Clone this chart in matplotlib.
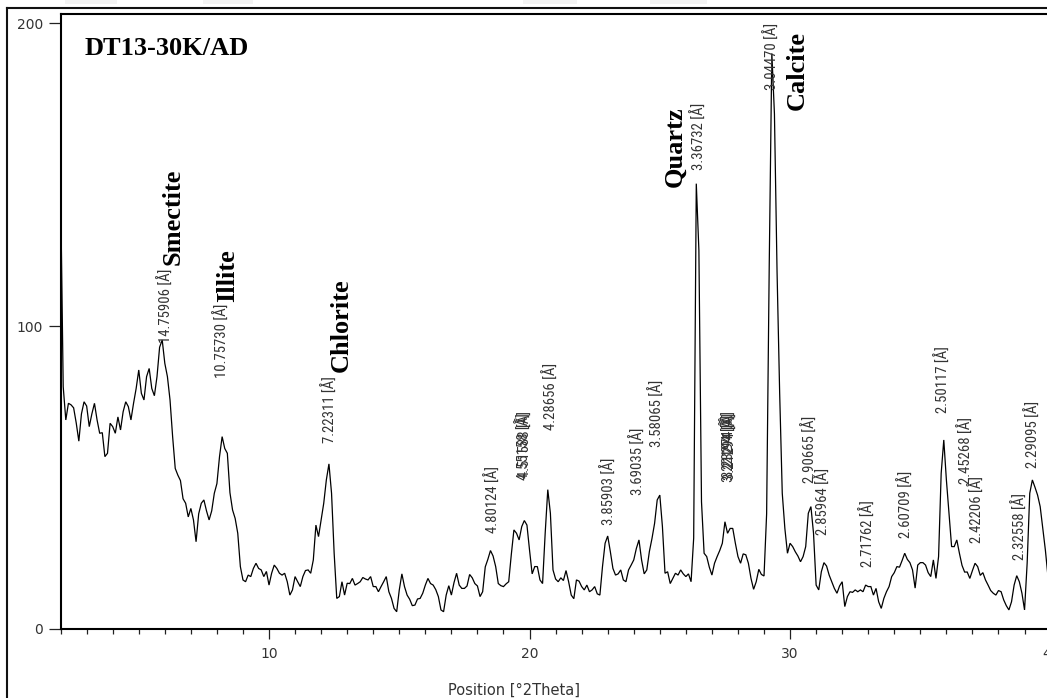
import os
import numpy as np
import matplotlib
matplotlib.use("Agg")
import matplotlib.pyplot as plt
from matplotlib import font_manager as fm
from matplotlib.font_manager import FontProperties
from matplotlib.ticker import MultipleLocator
from matplotlib.lines import Line2D
from matplotlib.patches import Rectangle

# ---------------- data ----------------
# scan positions (°2Theta), 0.1° steps from 2.0 to 39.9
two_theta = np.round(np.arange(2.0, 39.95, 0.1), 1)

# counts, one row per degree (2.0-2.9, 3.0-3.9, ...)
intensity = [
    145, 80, 69, 74.5, 74, 73, 68, 62, 71, 75,
    73.6, 66.8, 71, 74.5, 69, 64.6, 64.8, 56.9, 58, 67.9,
    66.8, 64.6, 70, 65.7, 71.7, 75, 73.4, 69, 74.5, 79.4,
    85.5, 77.8, 75.6, 83.3, 86, 79.4, 77, 83.3, 93, 95.4,
    87.7, 83.3, 75.6, 63.5, 53, 50.8, 49, 43, 41.5, 37,
    39.8, 36, 28.8, 38, 41.5, 42.6, 39, 36, 39, 44.8,
    48, 56.9, 63.5, 59.6, 58, 45, 39.3, 36.5, 31.6, 20.6,
    16.2, 15.6, 17.8, 17.3, 20, 21.7, 20, 19.5, 17.3, 19,
    14.5, 18.4, 21.1, 20, 18.4, 17.8, 18.4, 15.6, 11.2, 12.9,
    17.3, 15.6, 14, 17.3, 19.3, 19.5, 18.4, 22.8, 34.3, 30.5,
    36, 41.5, 49.2, 54.5, 44.8, 25, 10.1, 10.7, 15.6, 11.2,
    15.1, 15, 16.7, 14.5, 15, 15.6, 17, 16.5, 16.2, 17.3,
    14, 14, 12.3, 14, 15.6, 17.3, 12.3, 10.1, 6.8, 5.7,
    12.9, 18.2, 14, 11.2, 9.8, 7.7, 7.9, 9.9, 10.1, 11.8,
    14.5, 16.7, 15, 14.5, 13, 10.7, 6.3, 5.7, 11.2, 14.3,
    11.2, 15.3, 18.4, 14.5, 13.4, 13.4, 14.2, 18, 16.9, 15,
    14.2, 10.7, 12.3, 20.5, 23, 25.9, 24.1, 20.6, 15, 14.3,
    14, 14.9, 15.6, 24.6, 32.7, 31.6, 29.4, 33.8, 35.8, 34.3,
    26, 18.2, 20.6, 20.6, 16.2, 15, 31.6, 46, 38.2, 19.5,
    16.5, 15.6, 16.9, 16, 19.3, 15.6, 11.2, 10, 16.2, 15.8,
    14, 12.9, 14.5, 12.3, 12.9, 14, 11.6, 11.2, 20.6, 28.3,
    30.7, 25.6, 20, 17.8, 18.2, 19.5, 16.2, 15.6, 19.5, 21.1,
    22.8, 26.6, 29.4, 22.8, 18.2, 19.5, 25.6, 29.9, 34.9, 42.6,
    44.2, 33.8, 18.4, 18.9, 15, 16.7, 18.4, 17.8, 19.5, 18.2,
    17.3, 18.2, 15.6, 30, 147, 125, 42, 25, 23.9, 20.4,
    17.8, 21.7, 23.9, 25.9, 28.3, 35.4, 31.6, 33.2, 33.2, 28.3,
    23.9, 21.7, 24.8, 24.5, 21.7, 16.7, 13.1, 15.6, 19.7, 18,
    17.5, 38, 120, 190, 170, 118, 78, 44.8, 33.2, 25,
    28.3, 27.2, 25.5, 24.1, 22.2, 23.9, 27.2, 38.2, 40.4, 31.6,
    14.5, 12.9, 18.9, 21.9, 20.8, 17.8, 15.6, 13.4, 11.8, 14.2,
    15.6, 7.4, 10.7, 12.3, 12.1, 12.9, 12.3, 12.9, 12.3, 14.5,
    14, 14, 11.2, 13.4, 9, 6.8, 10.1, 12.3, 14, 17.3,
    18.6, 20.6, 20.4, 22.6, 25, 23, 21.9, 19.5, 13.5, 21.1,
    21.9, 21.9, 21.1, 18.6, 17.3, 22.8, 16.7, 23.9, 51.4, 62.4,
    49.2, 38.2, 27.2, 27.2, 29.4, 25, 21, 18.8, 18.8, 16.7,
    19.3, 21.7, 20.6, 17.7, 18.6, 16.2, 14.5, 12.7, 11.8, 11.2,
    12.7, 12.3, 9.6, 7.7, 6.3, 9, 14.5, 17.6, 15.6, 11.8,
    6.3, 21.7, 44.8, 49.2, 46.8, 44.2, 40.4, 33.2, 26, 17.3,
]

# d-spacing peak labels: text, position (°2Theta), label base (counts)
peak_texts = [
    "14.75906 [Å]", "10.75730 [Å]", "7.22311 [Å]", "4.80124 [Å]",
    "4.55158 [Å]", "4.51588 [Å]", "4.28656 [Å]", "3.85903 [Å]",
    "3.69035 [Å]", "3.58065 [Å]", "3.36732 [Å]", "3.22194 [Å]",
    "3.21294 [Å]", "3.23274 [Å]", "3.04470 [Å]", "2.90665 [Å]",
    "2.85964 [Å]", "2.71762 [Å]", "2.60709 [Å]", "2.50117 [Å]",
    "2.45268 [Å]", "2.42206 [Å]", "2.32558 [Å]", "2.29095 [Å]",
]
peak_pos = [6.05, 8.20, 12.34, 18.60, 19.78, 19.82, 20.83, 23.05,
            24.17, 24.90, 26.51, 27.63, 27.67, 27.65, 29.31, 30.77,
            31.27, 33.00, 34.45, 35.87, 36.76, 37.18, 38.80, 39.33]
peak_label_base = [94.4, 82.8, 61.4, 31.7, 49.2, 49.9, 65.7, 34.3,
                   44.2, 60.0, 151.5, 48.5, 49.2, 49.9, 178.0, 48.2,
                   31.0, 20.5, 30.0, 71.3, 48.0, 28.4, 22.8, 53.0]

# mineral names: text, position (°2Theta), label base (counts)
mineral_names = ["Smectite", "Illite", "Chlorite", "Quartz", "Calcite"]
mineral_pos = [6.31, 8.43, 12.76, 25.59, 30.27]
mineral_base = [120.0, 108.0, 84.8, 145.9, 171.3]

sample_name = "DT13-30K/AD"
x_label = "Position [°2Theta]"
x_major = [10, 20, 30, 40]
y_major = [0, 100, 200]

# ---------------- fonts ----------------
def find_font_file(keys):
    files = set(fm.findSystemFonts(fontext="ttf"))
    files |= {f.fname for f in fm.fontManager.ttflist}
    for key, size in keys:
        for p in sorted(files):
            if os.path.basename(p).lower().startswith(key.lower()):
                return p, size
    return None, None

narrow_path, narrow_size = find_font_file([
    ("LiberationSansNarrow-Regular", 11.5),
    ("RobotoCondensed-Regular", 10.6),
    ("Roboto-Condensed", 10.6),
    ("DejaVuSansCondensed.ttf", 9.1),
    ("NotoSans-CondensedRegular", 10.2),
    ("NotoSans-Condensed.", 10.2),
    ("OpenSans-CondensedRegular", 10.2),
    ("OpenSans_Condensed-Regular", 10.2),
])
if narrow_path:
    lab_fp = FontProperties(fname=narrow_path, size=narrow_size)
else:
    lab_fp = FontProperties(family="DejaVu Sans", size=8.4)

# ---------------- figure ----------------
W, H = 1047, 698
fig = plt.figure(figsize=(W / 100, H / 100), dpi=100)
fig.patch.set_facecolor("white")

ax = fig.add_axes([60.6 / W, 69 / H, 990 / W, 615 / H])
ax.plot(two_theta, intensity, color="black", lw=0.9, solid_joinstyle="miter")
ax.set_xlim(2, 40)
ax.set_ylim(0, 203)

for s in ("top", "left", "bottom"):
    ax.spines[s].set_linewidth(1.5)
    ax.spines[s].set_color("black")
ax.spines["right"].set_visible(False)

ax.set_xticks(x_major)
ax.xaxis.set_minor_locator(MultipleLocator(1))
ax.set_yticks(y_major)
ax.tick_params(axis="both", which="major", direction="out", colors="#222222",
               labelcolor="#333333", labelsize=10, width=0.9)
ax.tick_params(axis="x", which="major", length=7.5, pad=5.5)
ax.tick_params(axis="x", which="minor", direction="out", length=3.8,
               width=0.9, color="#222222")
ax.tick_params(axis="y", which="major", length=8.6, pad=4)
ax.tick_params(axis="y", which="minor", length=0)

fig.text(514 / W, 1 - 690 / H, x_label, ha="center", va="center",
         fontsize=10.5, color="#333333", family="DejaVu Sans")

for t, x, y in zip(peak_texts, peak_pos, peak_label_base):
    ax.text(x, y, t, rotation=90, ha="center", va="bottom",
            fontproperties=lab_fp, color="#333333", clip_on=False)

serif = ["Liberation Serif", "DejaVu Serif"]
for t, x, y in zip(mineral_names, mineral_pos, mineral_base):
    ax.text(x, y, t, rotation=90, ha="center", va="bottom", fontsize=19,
            fontweight="bold", family=serif, color="black")

fig.text(85 / W, 1 - 55 / H, sample_name, ha="left", va="baseline",
         fontsize=19, fontweight="bold", family=serif, color="black")

# outer frame (left and top edges visible)
fig.add_artist(Line2D([7 / W, 7 / W], [0, 1 - 8 / H], transform=fig.transFigure,
                      color="#111111", lw=1.5))
fig.add_artist(Line2D([7 / W, 1], [1 - 8 / H, 1 - 8 / H], transform=fig.transFigure,
                      color="#111111", lw=1.5))

# faint grey smudges above the frame
for x0, x1 in [(65, 117), (203, 253), (523, 577), (650, 707)]:
    fig.add_artist(Rectangle((x0 / W, 1 - 4 / H), (x1 - x0) / W, 4 / H,
                             transform=fig.transFigure, color="#f3f3f3",
                             lw=0, zorder=0))

fig.savefig("out.png", dpi=100)
